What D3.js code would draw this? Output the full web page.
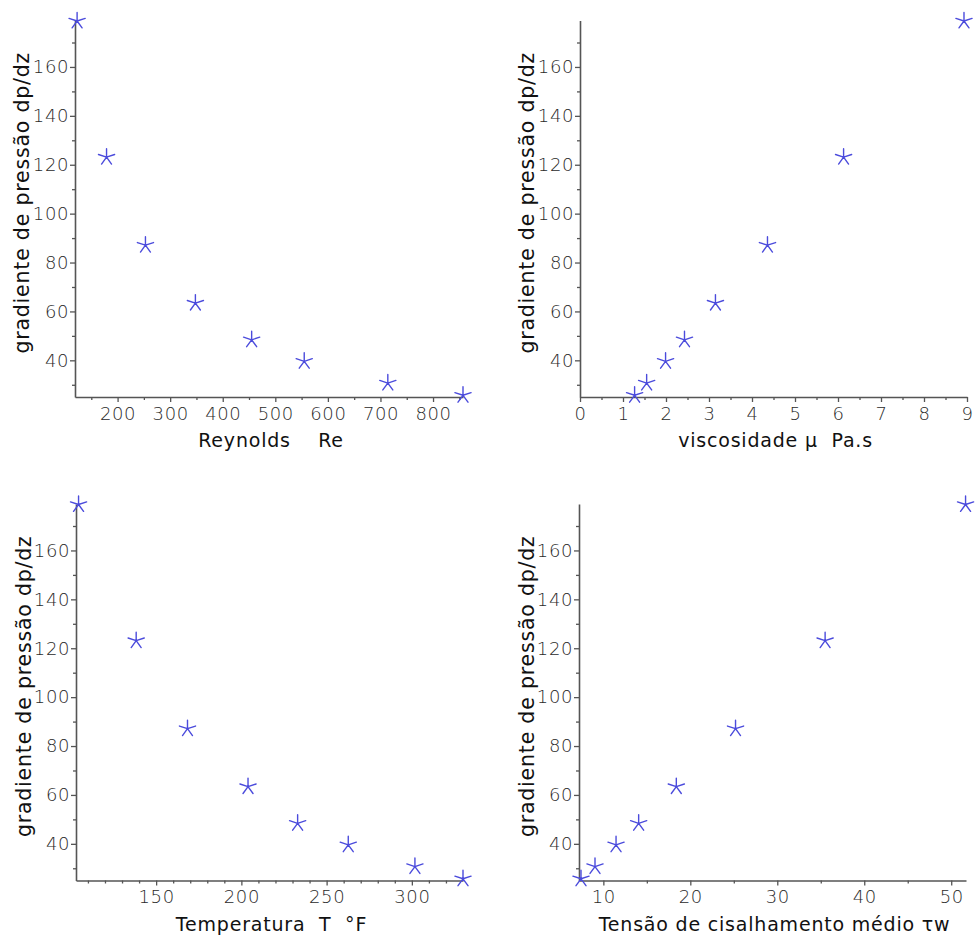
<!DOCTYPE html>
<html>
<head>
<meta charset="utf-8">
<script src="https://cdn.jsdelivr.net/npm/d3@7"></script>
<style>
  html, body { margin: 0; padding: 0; background: #fff; }
  svg { display: block; }
  .tick text { font-family: "DejaVu Sans", sans-serif; font-weight: 200; fill: #2a2a2a; }
  .axlabel { font-family: "DejaVu Sans", sans-serif; fill: #111; }
</style>
</head>
<body>
<svg id="chart" width="975" height="935"></svg>
<script>
// ---- data ----
const dpdz        = [178.8, 123.1, 87.1, 63.4, 48.4, 39.6, 30.7, 25.7];
const reynolds    = [123, 179, 253, 348, 455, 555, 714, 857];
const viscosidade = [8.93, 6.13, 4.36, 3.15, 2.43, 1.99, 1.55, 1.27];
const temperatura = [104.5, 138.3, 168.4, 203.9, 233, 262.7, 301.8, 330];
const tensao      = [51.65, 35.5, 25.2, 18.39, 14.06, 11.46, 9.04, 7.43];

const yTicks      = [40, 60, 80, 100, 120, 140, 160];
const yMinor      = [30, 50, 70, 90, 110, 130, 150, 170];
const reTicks     = [200, 300, 400, 500, 600, 700, 800];
const reMinor     = [150, 250, 350, 450, 550, 650, 750, 850];
const muTicks     = [0, 1, 2, 3, 4, 5, 6, 7, 8, 9];
const muMinor     = [0.5, 1.5, 2.5, 3.5, 4.5, 5.5, 6.5, 7.5, 8.5];
const tTicks      = [150, 200, 250, 300];
const tMinor      = [110, 120, 130, 140, 160, 170, 180, 190, 210, 220, 230, 240, 260, 270, 280, 290, 310, 320];
const tauTicks    = [10, 20, 30, 40, 50];
const tauMinor    = [15, 25, 35, 45];

const yLabel = "gradiente de pressão dp/dz";

const panels = [
  { x: reynolds,    xDom: [119, 857],  xRange: [75, 463],  yRange: [397, 20.5], ticks: reTicks,  minor: reMinor,  label: "Reynolds\u00a0\u00a0\u00a0\u00a0Re", ylx: 29 },
  { x: viscosidade, xDom: [0, 9],      xRange: [580, 967], yRange: [397, 20.5], ticks: muTicks,  minor: muMinor,  label: "viscosidade μ\u00a0\u00a0Pa.s", ylx: 534 },
  { x: temperatura, xDom: [103, 330],  xRange: [76, 463],  yRange: [880.5, 504], ticks: tTicks,  minor: tMinor,   label: "Temperatura\u00a0\u00a0T\u00a0\u00a0°F", ylx: 31 },
  { x: tensao,      xDom: [7.2, 51.7], xRange: [579, 966], yRange: [880.5, 504], ticks: tauTicks, minor: tauMinor, label: "Tensão de cisalhamento médio τw", ylx: 534 }
];
const yDom = [25, 179];

const svg = d3.select("#chart");
const axisColor = "#555";
const starColor = "#4b4bdc";

function starPath(r) {
  const p = d3.path();
  for (let k = 0; k < 5; k++) {
    const a = -Math.PI / 2 + k * 2 * Math.PI / 5;
    p.moveTo(0, 0);
    p.lineTo(r * Math.cos(a), r * Math.sin(a));
  }
  return p.toString();
}

panels.forEach(pn => {
  const xs = d3.scaleLinear().domain(pn.xDom).range(pn.xRange);
  const ys = d3.scaleLinear().domain(yDom).range(pn.yRange);
  const g = svg.append("g");

  // minor ticks
  const gxm = g.append("g").attr("transform", `translate(0,${pn.yRange[0]})`)
    .call(d3.axisBottom(xs).tickValues(pn.minor).tickSize(3).tickFormat(""));
  const gym = g.append("g").attr("transform", `translate(${pn.xRange[0]},0)`)
    .call(d3.axisLeft(ys).tickValues(yMinor).tickSize(3).tickFormat(""));
  [gxm, gym].forEach(a => { a.select(".domain").remove(); a.selectAll("line").attr("stroke", axisColor).attr("stroke-width", 1.3); });

  // major axes
  const gx = g.append("g").attr("transform", `translate(0,${pn.yRange[0]})`)
    .call(d3.axisBottom(xs).tickValues(pn.ticks).tickSize(5).tickSizeOuter(0).tickPadding(5));
  const gy = g.append("g").attr("transform", `translate(${pn.xRange[0]},0)`)
    .call(d3.axisLeft(ys).tickValues(yTicks).tickSize(5).tickSizeOuter(0).tickPadding(1));
  [gx, gy].forEach(a => {
    a.select(".domain").attr("stroke", axisColor).attr("stroke-width", 1.6);
    a.selectAll("line").attr("stroke", axisColor).attr("stroke-width", 1.3);
    a.selectAll("text").attr("font-size", 18).attr("letter-spacing", 0.6);
  });

  // axis labels
  g.append("text").attr("class", "axlabel")
    .attr("x", (pn.xRange[0] + pn.xRange[1]) / 2 + 2)
    .attr("y", pn.yRange[0] + 50)
    .attr("text-anchor", "middle")
    .attr("font-size", 19)
    .attr("letter-spacing", 0.8)
    .text(pn.label);

  g.append("text").attr("class", "axlabel")
    .attr("transform", `translate(${pn.ylx},${(pn.yRange[0] + pn.yRange[1]) / 2 - 6}) rotate(-90)`)
    .attr("text-anchor", "middle")
    .attr("font-size", 20.5)
    .attr("letter-spacing", 0.8)
    .text(yLabel);

  // points
  g.append("g").selectAll("path")
    .data(pn.x.map((v, i) => [v, dpdz[i]]))
    .join("path")
    .attr("d", starPath(8.5))
    .attr("transform", d => `translate(${xs(d[0])},${ys(d[1])})`)
    .attr("fill", "none")
    .attr("stroke", starColor)
    .attr("stroke-width", 1.4)
    .attr("stroke-linecap", "round");
});
</script>
</body>
</html>
